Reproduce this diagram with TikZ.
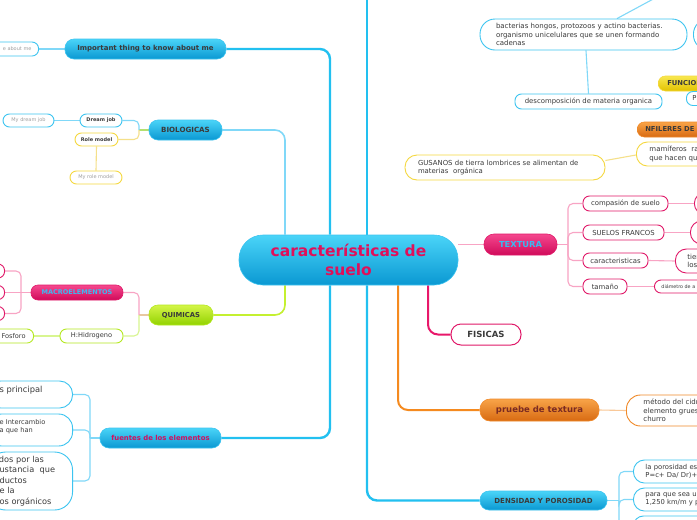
\documentclass[tikz,border=0pt]{standalone}
\usepackage{fontspec}
\setmainfont{DejaVu Sans}
\usetikzlibrary{backgrounds}
\definecolor{bluetop}{HTML}{4AD4F8}
\definecolor{bluebot}{HTML}{0A98D2}
\definecolor{blueedge}{HTML}{3CC4F0}
\definecolor{pinktop}{HTML}{F5488E}
\definecolor{pinkbot}{HTML}{D00A5A}
\definecolor{pinkedge}{HTML}{E01868}
\definecolor{limetop}{HTML}{D4F548}
\definecolor{limebot}{HTML}{92D200}
\definecolor{limeedge}{HTML}{B4E820}
\definecolor{orgtop}{HTML}{F8A448}
\definecolor{orgbot}{HTML}{D86A12}
\definecolor{orgedge}{HTML}{F08A2A}
\definecolor{yeltop}{HTML}{F8E850}
\definecolor{yelbot}{HTML}{E2C200}
\definecolor{yeledge}{HTML}{F5D840}
\definecolor{txt}{HTML}{3A3A3A}
\definecolor{gtxt}{HTML}{A0A0A0}
\definecolor{ctext}{HTML}{E0105A}
\definecolor{ftext}{HTML}{D01060}
\definecolor{ttext}{HTML}{3CB8F0}
\definecolor{ptext}{HTML}{7A2A22}
\definecolor{cblue}{HTML}{22C0F0}
\definecolor{cbluel}{HTML}{80D8F8}
\definecolor{clime}{HTML}{C4F030}
\definecolor{climel}{HTML}{D8F590}
\definecolor{corange}{HTML}{F58A1F}
\definecolor{corangel}{HTML}{F9C898}
\definecolor{cpink}{HTML}{E8186A}
\definecolor{cpinkl}{HTML}{F8A4C4}
\definecolor{cyel}{HTML}{F5E08A}
\definecolor{ctan}{HTML}{E8C8A0}
\definecolor{cgreen}{HTML}{B4E070}
\tikzset{
  grad/.style n args={3}{top color=#1, bottom color=#2, draw=#3, line width=0.6pt, rounded corners=9pt, inner sep=0pt},
  blueg/.style={grad={bluetop}{bluebot}{blueedge}},
  pinkg/.style={grad={pinktop}{pinkbot}{pinkedge}},
  limeg/.style={grad={limetop}{limebot}{limeedge}},
  orgg/.style={grad={orgtop}{orgbot}{orgedge}},
  yelg/.style={grad={yeltop}{yelbot}{yeledge}},
  wbox/.style={fill=white, draw=#1, line width=0.9pt, rounded corners=6.5pt, inner sep=0pt, text=txt},
  ltext/.style 2 args={inner xsep=#1, text width=#2, align=left},
  fs/.style={font=\fontsize{#1}{8.4}\selectfont},
  fb/.style={font=\bfseries\fontsize{#1}{8.4}\selectfont},
  fm/.style 2 args={font=\fontsize{#1}{#2}\selectfont},
  cmain/.style={line width=2pt, rounded corners=10pt},
  csub/.style={line width=1.1pt, rounded corners=5pt},
}
\begin{document}
\begin{tikzpicture}[x=1pt,y=-1pt]
\useasboundingbox (0,0) rectangle (697,520);
% central
\node[blueg, rounded corners=24pt, minimum width=219pt, minimum height=50pt, align=center, text=ctext, font=\bfseries\fontsize{15.5}{18.5}\selectfont] (c) at (348.5,260) {características de\\suelo};
% left side
\node[blueg, minimum width=161pt, minimum height=20pt, text=txt, fb=7] (imp) at (145.5,49) {Important thing to know about me};
\node[wbox=blueedge, anchor=east, minimum height=14pt, inner xsep=7pt, text width=80pt, align=right, text=gtxt, fs=5] (impc) at (39,49) {e about me};
\node[blueg, minimum width=73pt, minimum height=20pt, text=txt, fb=7.1] (bio) at (185.5,130) {BIOLOGICAS};
\node[wbox=blueedge, minimum width=42pt, minimum height=13pt, fb=5] (dream) at (101,120.5) {Dream job};
\node[wbox=blueedge, minimum width=51pt, minimum height=13pt, text=gtxt, fs=5] (mydream) at (28.5,120.5) {My dream job};
\node[wbox=yeledge, minimum width=43pt, minimum height=13pt, fb=5] (role) at (96.5,139.5) {Role model};
\node[wbox=yeledge, minimum width=52pt, minimum height=13pt, text=gtxt, fs=5] (myrole) at (96,177.5) {My role model};
\node[limeg, minimum width=64pt, minimum height=20pt, text=txt, fb=6.8] (qui) at (181,315) {QUIMICAS};
\node[pinkg, rounded corners=7pt, minimum width=92pt, minimum height=15pt, text=ttext, fb=6.5] (macro) at (77,292.5) {MACROELEMENTOS};
\node[wbox=pinkedge, anchor=east, minimum width=40pt, minimum height=14pt] (m1) at (5,271) {};
\node[wbox=pinkedge, anchor=east, minimum width=40pt, minimum height=14pt] (m2) at (5,292.5) {};
\node[wbox=pinkedge, anchor=east, minimum width=40pt, minimum height=14pt] (m3) at (5,313.5) {};
\node[wbox=limeedge, minimum width=63pt, minimum height=14pt, fs=6.6] (hidro) at (91.5,336) {H:Hidrogeno};
\node[wbox=limeedge, anchor=east, minimum height=14pt, inner xsep=8pt, text width=56pt, align=right, fs=6.6] (fosf) at (34,336) {Fosforo};
\node[blueg, minimum width=121pt, minimum height=20pt, text=ftext, fb=6.9] (fue) at (160.5,438) {fuentes de los elementos};
\node[wbox=blueedge, rounded corners=13pt, anchor=east, minimum height=27pt, ltext={12pt}{61pt}, fm={8.3}{10}] (f1) at (73,394.5) {s principal\\[1pt]\mbox{}};
\node[wbox=blueedge, rounded corners=14pt, anchor=east, minimum height=32pt, ltext={12pt}{61pt}, fm={6.6}{8}] (f2) at (73,430) {e Intercambio\\a que han\\\mbox{}};
\node[wbox=blueedge, rounded corners=18pt, anchor=east, minimum height=58pt, ltext={12pt}{61pt}, fm={8.2}{10.5}] (f3) at (73,481) {\hspace*{-3pt}ídos por las\\ustancia\ \ que\\ductos\\e la\\os orgánicos};
% right side
\node[wbox=blueedge, rounded corners=15pt, minimum height=31pt, ltext={16pt}{175pt}, fm={7}{8.4}] (bac) at (583.5,34.5) {bacterias hongos, protozoos y actino bacterias.\\organismo unicelulares que se unen formando\\cadenas};
\node[wbox=blueedge, rounded corners=15pt, anchor=west, minimum width=40pt, minimum height=31pt] (bacr) at (693,34.5) {};
\coordinate (bacup) at (657,-3);
\node[wbox=blueedge, minimum width=147pt, minimum height=15pt, fs=6.9] (desc) at (588.5,101.5) {descomposición de materia organica};
\node[yelg, rounded corners=7pt, anchor=west, minimum height=15pt, ltext={9pt}{50pt}, text=txt, fb=6.8] (func) at (658,83.5) {FUNCIONES};
\node[wbox=blueedge, anchor=west, minimum height=14pt, ltext={6pt}{20pt}, fs=6.8] (pn) at (686,98.5) {P};
\node[orgg, rounded corners=7pt, anchor=west, minimum height=15pt, ltext={8pt}{56pt}, text=txt, fb=6.8] (nfil) at (637,129.5) {NFILERES DE};
\node[wbox=yeledge, rounded corners=11pt, anchor=west, minimum height=24pt, ltext={13pt}{50pt}, fm={7}{8.6}] (mam) at (636,154) {mamíferos\ \ ra\\que hacen qu};
\node[wbox=yeledge, rounded corners=12pt, minimum height=25pt, ltext={13pt}{174pt}, fm={6.9}{8.8}] (gus) at (505,167.5) {GUSANOS de tierra lombrices se alimentan de\\materias\ \ orgánica};
\node[pinkg, rounded corners=10pt, minimum width=73pt, minimum height=21pt, text=ttext, fb=8.3] (tex) at (520.5,244.5) {TEXTURA};
\node[wbox=pinkedge, minimum width=85pt, minimum height=15pt, fs=6.9] (t1) at (625.5,203.5) {compasión de suelo};
\node[wbox=pinkedge, minimum width=81pt, minimum height=15pt, fs=6.9] (t2) at (623.5,232.5) {SUELOS FRANCOS};
\node[wbox=pinkedge, minimum width=65pt, minimum height=15pt, fs=6.9] (t3) at (615.5,260.5) {caracteristicas};
\node[wbox=pinkedge, minimum width=44pt, minimum height=15pt, fs=6.9] (t4) at (605,286.5) {tamaño};
\node[wbox=pinkedge, rounded corners=10pt, anchor=west, minimum width=30pt, minimum height=21pt] (t1r) at (694,203.5) {};
\node[wbox=pinkedge, rounded corners=11pt, anchor=west, minimum width=30pt, minimum height=23pt] (t2r) at (690,232.5) {};
\node[wbox=pinkedge, rounded corners=11pt, anchor=west, minimum height=24pt, ltext={12pt}{30pt}, fm={7}{8.6}] (t3r) at (675,261) {tier\\los};
\node[wbox=pinkedge, anchor=west, minimum height=13pt, ltext={7pt}{56pt}, fs=4.8] (t4r) at (654,286.5) {diámetro de a};
\node[wbox=pinkedge, line width=1pt, rounded corners=10pt, minimum width=70pt, minimum height=21pt, fb=8.5] (fis) at (486,334.5) {FISICAS};
\node[orgg, rounded corners=10pt, minimum width=119pt, minimum height=22pt, text=ptext, fb=8.5] (pru) at (539.5,410) {pruebe de textura};
\node[wbox=orgedge, rounded corners=14pt, anchor=west, minimum height=31pt, ltext={17pt}{60pt}, fm={7}{8.4}] (pruc) at (626,410.5) {método del cidr\\elemento grues\\churro};
\node[blueg, minimum width=127pt, minimum height=19pt, text=txt, fb=7] (den) at (543.5,500.5) {DENSIDAD Y POROSIDAD};
\node[wbox=blueedge, rounded corners=11pt, anchor=west, minimum height=23pt, ltext={12pt}{66pt}, fm={6.8}{8.4}] (d1) at (633,471.5) {la porosidad est\\P=c+ Da/ Dr)+1};
\node[wbox=blueedge, rounded corners=11pt, anchor=west, minimum height=23pt, ltext={12pt}{66pt}, fm={6.8}{8.4}] (d2) at (633,499.5) {para que sea un\\1,250 km/m y p};
\node[wbox=blueedge, rounded corners=10pt, anchor=west, minimum width=90pt, minimum height=22pt] (d3) at (633,527) {};
\coordinate (topend) at (367,-5);
\coordinate (bb) at (139,130);
\coordinate (qb) at (139,315);
\coordinate (mb) at (21,292.5);
\coordinate (fb) at (90,438);
\coordinate (tb) at (568,244.5);
\coordinate (db) at (619,500.5);
\begin{scope}[on background layer]
\fill[white] (0,0) rectangle (697,520);
\end{scope}
\begin{scope}[on background layer]
% main branches
\draw[cmain, cblue, line width=2.4pt] (imp.east) -| ([xshift=-18.5pt]c.north);
\draw[cmain, cblue, line width=2.4pt] (fue.east) -| ([xshift=-18.5pt]c.south);
\draw[cmain, cbluel, line width=1.6pt] (bio.east) -| ([xshift=-63.5pt]c.north);
\draw[cmain, clime, line width=1.6pt] (qui.east) -| ([xshift=-63.5pt]c.south);
\draw[cmain, cblue, line width=2.4pt] (den.west) -| ([xshift=18.5pt]c.south);
\draw[cmain, cblue, line width=2.4pt] (topend) -- ([xshift=18.5pt]c.north);
\draw[cmain, corange] (pru.west) -| ([xshift=49.5pt]c.south);
\draw[cmain, cpink] (fis.west) -| ([xshift=79.5pt]c.south);
\draw[cmain, cpinkl, line width=1.6pt] (tex.west) -- (tex.west -| c.east);
% left sub
\draw[csub, cbluel] (impc.east) -- (imp.west);
\draw[csub, cgreen] (bio.west) -- (bb);
\draw[csub, cbluel] (dream.east) -| (bb);
\draw[csub, cyel] (role.east) -| (bb);
\draw[csub, cbluel] (mydream.east) -- (dream.west);
\draw[csub, cyel] (role.south) -- (myrole.north);
\draw[csub, ctan] (qui.west) -- (qb);
\draw[csub, cpinkl] (macro.east) -| (qb);
\draw[csub, climel] (hidro.east) -| (qb);
\draw[csub, climel] (fosf.east) -- (hidro.west);
\draw[csub, cpinkl] (macro.west) -- (mb);
\draw[csub, cpinkl] (m1.east) -| (mb);
\draw[csub, cpinkl] (m2.east) -- (mb);
\draw[csub, cpinkl] (m3.east) -| (mb);
\draw[csub, cbluel] (fue.west) -- (fb);
\draw[csub, cbluel] (f1.east) -| (fb);
\draw[csub, cbluel] (f2.east) -| (fb);
\draw[csub, cbluel] (f3.east) -| (fb);
% right sub
\draw[csub, cbluel] ([xshift=33.5pt]bac.north) -- (bacup);
\draw[csub, cbluel] ([xshift=2.5pt]bac.south) -- (desc.north);
\draw[csub, cyel] ([yshift=7pt]gus.east) -- ([yshift=-1pt]mam.west);
\draw[csub, cpinkl] (tex.east) -- (tb);
\draw[csub, cpinkl] (t1.west) -| (tb);
\draw[csub, cpinkl] (t2.west) -| (tb);
\draw[csub, cpinkl] (t3.west) -| (tb);
\draw[csub, cpinkl] (t4.west) -| (tb);
\draw[csub, cpinkl] (t1.east) -- (t1r.west);
\draw[csub, cpinkl] (t2.east) -- (t2r.west);
\draw[csub, cpinkl] (t3.east) -- (t3r.west);
\draw[csub, cpinkl] (t4.east) -- (t4r.west);
\draw[csub, corangel] (pru.east) -- (pruc.west);
\draw[csub, cbluel] (den.east) -- (db);
\draw[csub, cbluel] (d1.west) -| (db);
\draw[csub, cbluel] (d2.west) -| (db);
\draw[csub, cbluel] (d3.west) -| (db);
\end{scope}
\end{tikzpicture}
\end{document}
